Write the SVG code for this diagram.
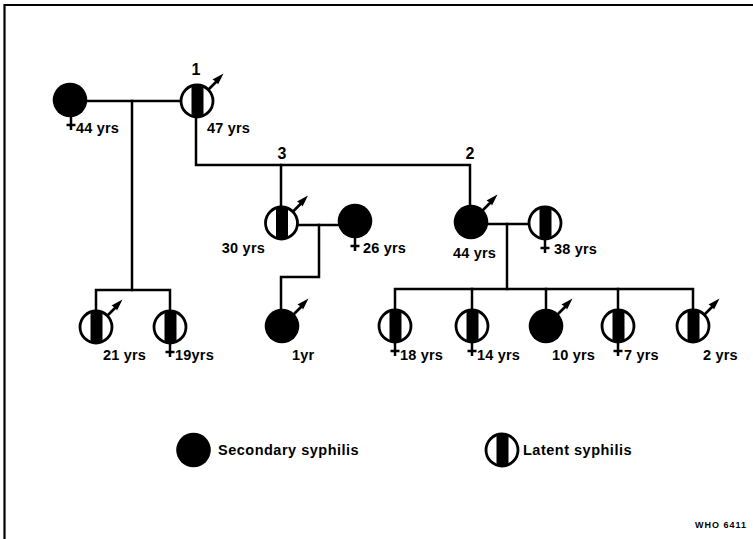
<svg xmlns="http://www.w3.org/2000/svg" xmlns:xlink="http://www.w3.org/1999/xlink" width="753" height="539" viewBox="0 0 753 539">
<style>
.ln{fill:none;stroke:#000;stroke-width:2.5;stroke-linecap:square}
.t{font-family:"Liberation Sans",Arial,sans-serif;font-weight:bold;font-size:14.5px;fill:#000;letter-spacing:0.2px}
.n{font-family:"Liberation Sans",Arial,sans-serif;font-weight:bold;font-size:16px;fill:#000}
.lg{font-family:"Liberation Sans",Arial,sans-serif;font-weight:bold;font-size:14.5px;fill:#000;letter-spacing:0.5px}
.who{font-family:"Liberation Sans",Arial,sans-serif;font-weight:bold;font-size:9px;fill:#000;letter-spacing:1px}
</style>
<defs>
<clipPath id="cc"><circle cx="0" cy="0" r="16"/></clipPath>
<g id="latent"><circle r="16" fill="#fff" stroke="#000" stroke-width="2.8"/><rect x="-5.5" y="-17" width="12" height="34" fill="#000" clip-path="url(#cc)"/></g>
<g id="secondary"><circle r="17.3" fill="#000"/></g>
<g id="male"><line x1="11" y1="-11" x2="20" y2="-20" stroke="#000" stroke-width="2.6"/><polygon points="26.5,-27.5 15.5,-21.5 19.5,-19 21,-16.5" fill="#000"/></g>
<g id="female"><line x1="0" y1="16" x2="0" y2="30" stroke="#000" stroke-width="2.5"/><line x1="-4.5" y1="25" x2="4.5" y2="25" stroke="#000" stroke-width="2.5"/></g>
</defs>
<rect width="753" height="539" fill="#fff"/>
<path d="M4.5 539 V5 H753" fill="none" stroke="#000" stroke-width="2.2"/>

<g id="connectors" class="ln">
<path d="M87 101 H181"/>
<path d="M132 101 V290"/>
<path d="M96 310 V290 H170 V310"/>
<path d="M196 117 V165 H470 V205"/>
<path d="M281 165 V207"/>
<path d="M297 225 H339"/>
<path d="M319 225 V277 H281 V309"/>
<path d="M488 224 H529"/>
<path d="M507 224 V289"/>
<path d="M395 309 V289 H693 V309"/>
<path d="M472 289 V309"/>
<path d="M546 289 V309"/>
<path d="M618 289 V309"/>
</g>

<g id="n-f1"><use xlink:href="#female" x="71" y="100"/><use xlink:href="#secondary" x="70" y="100"/><text class="t" x="76" y="133">44 yrs</text></g>
<g id="n-m1"><use xlink:href="#male" x="197" y="101"/><use xlink:href="#latent" x="197" y="101"/><text class="n" x="196" y="75" text-anchor="middle">1</text><text class="t" x="207" y="133">47 yrs</text></g>
<g id="n-c21"><use xlink:href="#male" x="96" y="327"/><use xlink:href="#latent" x="96" y="327"/><text class="t" x="103" y="360">21 yrs</text></g>
<g id="n-c19"><use xlink:href="#female" x="170" y="327"/><use xlink:href="#latent" x="170" y="327"/><text class="t" x="175" y="360">19yrs</text></g>
<g id="label-3"><text class="n" x="282" y="159" text-anchor="middle">3</text></g>
<g id="label-2"><text class="n" x="470" y="159" text-anchor="middle">2</text></g>
<g id="n-m3"><use xlink:href="#male" x="281.5" y="223"/><use xlink:href="#latent" x="281.5" y="223"/><text class="t" x="265" y="253" text-anchor="end">30 yrs</text></g>
<g id="n-f3"><use xlink:href="#female" x="355" y="221"/><use xlink:href="#secondary" x="355" y="221"/><text class="t" x="363" y="253">26 yrs</text></g>
<g id="n-c1"><use xlink:href="#male" x="282" y="326"/><use xlink:href="#secondary" x="282" y="326"/><text class="t" x="292" y="360">1yr</text></g>
<g id="n-m2"><use xlink:href="#male" x="471" y="222"/><use xlink:href="#secondary" x="471" y="222"/><text class="t" x="453" y="258">44 yrs</text></g>
<g id="n-f2"><use xlink:href="#female" x="545" y="223"/><use xlink:href="#latent" x="545" y="223"/><text class="t" x="554" y="254">38 yrs</text></g>
<g id="n-c18"><use xlink:href="#female" x="395" y="326"/><use xlink:href="#latent" x="395" y="326"/><text class="t" x="400" y="360">18 yrs</text></g>
<g id="n-c14"><use xlink:href="#female" x="472" y="326"/><use xlink:href="#latent" x="472" y="326"/><text class="t" x="477" y="360">14 yrs</text></g>
<g id="n-c10"><use xlink:href="#male" x="546" y="326"/><use xlink:href="#secondary" x="546" y="326"/><text class="t" x="552" y="360">10 yrs</text></g>
<g id="n-c7"><use xlink:href="#female" x="618" y="326"/><use xlink:href="#latent" x="618" y="326"/><text class="t" x="624" y="360">7 yrs</text></g>
<g id="n-c2"><use xlink:href="#male" x="693" y="326"/><use xlink:href="#latent" x="693" y="326"/><text class="t" x="703" y="360">2 yrs</text></g>

<g id="legend-secondary"><use xlink:href="#secondary" x="193.5" y="450"/><text class="lg" x="218" y="455">Secondary syphilis</text></g>
<g id="legend-latent"><use xlink:href="#latent" x="502" y="450"/><text class="lg" x="523" y="455">Latent syphilis</text></g>
<text class="who" x="695" y="528">WHO 6411</text>
</svg>
